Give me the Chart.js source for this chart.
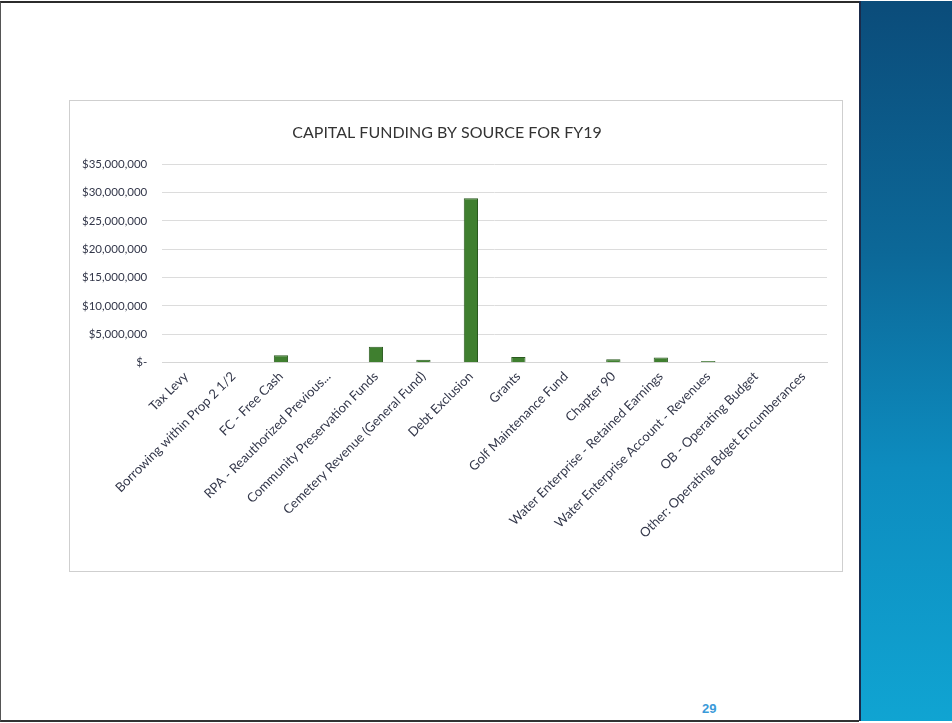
<!DOCTYPE html>
<html>
<head>
<meta charset="utf-8">
<script src="https://cdn.jsdelivr.net/npm/chart.js@4/dist/chart.umd.min.js"></script>
<style>
  html, body { margin: 0; padding: 0; background: #fff; }
  body { width: 952px; height: 723px; position: relative; overflow: hidden; font-family: Lato, "Open Sans", sans-serif; }
  .slide { position: absolute; left: 0; top: 1px; width: 858px; height: 717px; border-top: 2px solid #2b2b2b; border-left: 1px solid #555; border-bottom: 2px solid #333; background: #fff; }
  .side { position: absolute; left: 859px; top: 1px; width: 93px; height: 720px; border-left: 2px solid #1a2a4a;
          background: linear-gradient(to bottom, #0b4c7a 0%, #0c6898 35%, #0d8cbf 65%, #10a4d2 100%); }
  .box { position: absolute; left: 69px; top: 100px; width: 774px; height: 472px; border: 1px solid #cfcfcf; box-sizing: border-box; }
  .box canvas { position: absolute; left: -3px; top: 0; }
  .page { position: absolute; left: 702px; top: 701px; font: bold 13px "Liberation Sans", Arial, sans-serif; color: #3a9ad9; }
</style>
</head>
<body>
<div class="slide"></div>
<div class="side"></div>
<div class="box"><canvas id="fundingChart" width="775" height="470"></canvas></div>
<div class="page">29</div>
<script>
// FY19 capital funding, one bar per source
const categories = [
  "Tax Levy",
  "Borrowing within Prop 2 1/2",
  "FC - Free Cash",
  "RPA - Reauthorized Previous...",
  "Community Preservation Funds",
  "Cemetery Revenue (General Fund)",
  "Debt Exclusion",
  "Grants",
  "Golf Maintenance Fund",
  "Chapter 90",
  "Water Enterprise - Retained Earnings",
  "Water Enterprise Account - Revenues",
  "OB - Operating Budget",
  "Other: Operating Bdget Encumberances"
];
const fundingValues = [0, 0, 1300000, 0, 2800000, 500000, 29000000, 1000000, 0, 600000, 900000, 300000, 0, 0];
const yMax = 35000000;
const yStep = 5000000;

const labelColor = "#33374a";

const ctx = document.getElementById("fundingChart").getContext("2d");
const fundingChart = new Chart(ctx, {
  type: "bar",
  data: {
    labels: categories,
    datasets: [{
      label: "Capital Funding",
      data: fundingValues,
      backgroundColor: "#3f7f2f",
      borderColor: "#2a5a1f",
      borderWidth: 1,
      categoryPercentage: 1,
      barPercentage: 0.3
    }]
  },
  options: {
    responsive: false,
    animation: false,
    layout: { padding: { left: 0, right: 15, top: 22, bottom: 24 } },
    plugins: {
      legend: { display: false },
      tooltip: { enabled: false },
      title: {
        display: true,
        text: "CAPITAL FUNDING BY SOURCE FOR FY19",
        color: "#333",
        font: { family: "Lato", size: 16, weight: "normal" },
        padding: { top: 0, bottom: 22 }
      }
    },
    scales: {
      x: {
        grid: { display: false, drawTicks: false },
        border: { display: true, color: "#d6d6d6" },
        ticks: {
          autoSkip: false,
          maxRotation: 45,
          minRotation: 45,
          padding: 6,
          color: labelColor,
          font: { family: "Lato", size: 13 }
        }
      },
      y: {
        min: 0,
        max: yMax,
        grid: { color: "#dcdcdc", drawTicks: false },
        border: { display: false },
        ticks: {
          stepSize: yStep,
          padding: 15,
          color: labelColor,
          font: { family: "Lato", size: 11.5 },
          callback: (v) => v === 0 ? "$-" : "$" + v.toLocaleString("en-US")
        }
      }
    }
  }
});
</script>
</body>
</html>
